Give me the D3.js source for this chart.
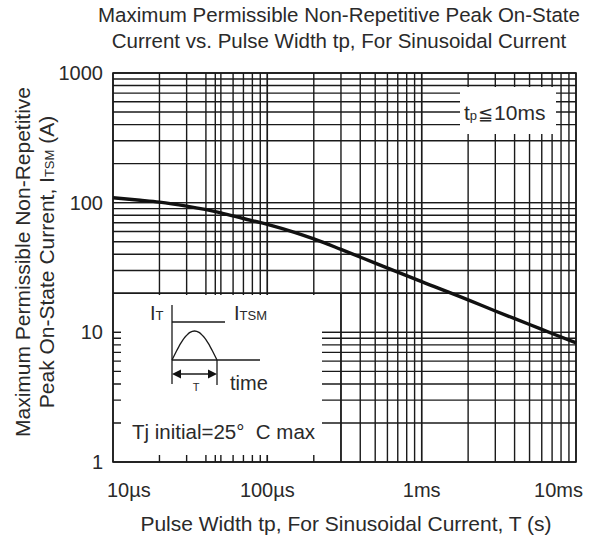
<!DOCTYPE html>
<html><head><meta charset="utf-8">
<script src="https://cdn.jsdelivr.net/npm/d3@7"></script>
<style>
body{margin:0;background:#fff;}
text{font-family:Arial,"Liberation Sans",sans-serif;fill:#2a2a2a;}
</style></head>
<body>
<svg id="c" width="594" height="540"></svg>
<script>
// ---- data ----
const pulseWidth = [1e-5, 1.5e-5, 2e-5, 3e-5, 5e-5, 7e-5, 1e-4, 1.5e-4, 2e-4, 3e-4, 5e-4, 1e-3, 2e-3, 3e-3, 5e-3, 7e-3, 1e-2];
const itsm       = [109, 104.5, 101, 94, 83.5, 75.5, 68, 59, 52.5, 43.6, 34.2, 24.6, 17.8, 14.6, 11.5, 9.8, 8.3];
const xTickValues = [1e-5, 1e-4, 1e-3, 1e-2];
const xTickLabels = ["10\u00b5s", "100\u00b5s", "1ms", "10ms"];
const yTickValues = [1, 10, 100, 1000];
const yTickLabels = ["1", "10", "100", "1000"];
const xExtraGrid = [4.6e-5];
const titleLines = ["Maximum Permissible Non-Repetitive Peak On-State", "Current vs. Pulse Width tp, For Sinusoidal Current"];
const xTitle = "Pulse Width tp, For Sinusoidal Current, T (s)";

const svg = d3.select("#c");
const L = 113, R = 576, T = 73, B = 462;
const x = d3.scaleLog().domain([1e-5, 1e-2]).range([L, R]);
const y = d3.scaleLog().domain([1, 1000]).range([B, T]);

// grid values (1..9 per decade)
const xg = [];
for (let e = -5; e < -2; e++) for (let m = 1; m <= 10; m++) xg.push(m * Math.pow(10, e));
xExtraGrid.forEach(v => xg.push(v));
const yg = [];
for (let e = 0; e < 3; e++) for (let m = 1; m <= 10; m++) yg.push(m * Math.pow(10, e));

const grid = svg.append("g").attr("stroke", "#1a1a1a").attr("stroke-width", 1.4);
grid.selectAll("line.v").data(xg).join("line").attr("class","v")
  .attr("x1", d => x(d)).attr("x2", d => x(d)).attr("y1", T).attr("y2", B);
grid.selectAll("line.h").data(yg).join("line").attr("class","h")
  .attr("x1", L).attr("x2", R).attr("y1", d => y(d)).attr("y2", d => y(d));

// white boxes (inset + tp label)
svg.append("rect").attr("x", 121).attr("y", 295).attr("width", 201).attr("height", 160).attr("fill", "#fff");
svg.append("rect").attr("x", 460).attr("y", 87).attr("width", 96).attr("height", 47).attr("fill", "#fff");
// redraw the 20A line and the 300us line that border the inset
grid.append("line").attr("x1", L).attr("x2", R).attr("y1", y(20)).attr("y2", y(20));
grid.append("line").attr("x1", x(3e-4)).attr("x2", x(3e-4)).attr("y1", y(20)).attr("y2", B);

// frame
svg.append("rect").attr("x", L).attr("y", T).attr("width", R - L).attr("height", B - T)
  .attr("fill", "none").attr("stroke", "#1a1a1a").attr("stroke-width", 1.6);

// curve
const line = d3.line().x((d, i) => x(pulseWidth[i])).y(d => y(d)).curve(d3.curveMonotoneX);
svg.append("path").attr("d", line(itsm)).attr("fill", "none").attr("stroke", "#111").attr("stroke-width", 3.4);

// axis tick labels
svg.selectAll("text.yt").data(yTickValues).join("text").attr("class","yt")
  .attr("x", L - 10).attr("y", d => y(d) + 7).attr("text-anchor", "end")
  .attr("font-size", 20).text((d, i) => yTickLabels[i]);
svg.selectAll("text.xt").data(xTickValues).join("text").attr("class","xt")
  .attr("x", (d, i) => x(d) + (i === 0 ? -6 : i === 3 ? 7 : 0))
  .attr("y", 497)
  .attr("text-anchor", (d, i) => i === 0 ? "start" : i === 3 ? "end" : "middle")
  .attr("font-size", 20).text((d, i) => xTickLabels[i]);

// titles
svg.selectAll("text.tt").data(titleLines).join("text").attr("class","tt")
  .attr("x", 339).attr("y", (d, i) => 22 + i * 26).attr("text-anchor", "middle")
  .attr("font-size", 20.5).text(d => d);
svg.append("text").attr("x", 346).attr("y", 531).attr("text-anchor", "middle")
  .attr("font-size", 21).text(xTitle);

const yl = svg.append("g").attr("transform", "translate(0,262) rotate(-90)");
yl.append("text").attr("x", 0).attr("y", 30).attr("text-anchor", "middle").attr("font-size", 21)
  .text("Maximum Permissible Non-Repetitive");
const yl2 = yl.append("text").attr("x", 0).attr("y", 54).attr("text-anchor", "middle").attr("font-size", 21);
yl2.append("tspan").text("Peak On-State Current, I");
yl2.append("tspan").attr("font-size", 13).text("TSM");
yl2.append("tspan").text(" (A)");

// tp label
const tp = svg.append("text").attr("x", 464).attr("y", 120).attr("font-size", 21);
tp.append("tspan").text("t");
tp.append("tspan").attr("font-size", 13).text("p");
tp.append("tspan").text("\u2266").attr("font-size", 18).attr("dx", 1);
tp.append("tspan").text("10ms").attr("dx", 1);

// inset
const ins = svg.append("g").attr("stroke", "#1a1a1a").attr("stroke-width", 1.3).attr("fill", "none");
ins.append("line").attr("x1", 172).attr("x2", 172).attr("y1", 305).attr("y2", 384);
ins.append("line").attr("x1", 172).attr("x2", 225).attr("y1", 322).attr("y2", 322);
ins.append("line").attr("x1", 172).attr("x2", 260).attr("y1", 360).attr("y2", 360);
ins.append("line").attr("x1", 217).attr("x2", 217).attr("y1", 360).attr("y2", 385);
ins.append("path").attr("d", d3.line().curve(d3.curveNatural)(d3.range(0, 21).map(k => [172 + k * 45 / 20, 360 - 29 * Math.sin(Math.PI * k / 20)])));
ins.append("line").attr("x1", 178).attr("x2", 211).attr("y1", 374).attr("y2", 374);
svg.append("path").attr("d", "M172,374 L181,369.5 L181,378.5 Z M217,374 L208,369.5 L208,378.5 Z").attr("fill", "#111");

const it = svg.append("text").attr("x", 150).attr("y", 320).attr("font-size", 20);
it.append("tspan").text("I"); it.append("tspan").attr("font-size", 13).text("T");
const its = svg.append("text").attr("x", 234).attr("y", 320).attr("font-size", 20);
its.append("tspan").text("I"); its.append("tspan").attr("font-size", 13).text("TSM");
svg.append("text").attr("x", 196).attr("y", 391).attr("font-size", 11).attr("text-anchor", "middle").text("T");
svg.append("text").attr("x", 230).attr("y", 390).attr("font-size", 20).text("time");
svg.append("text").attr("x", 132).attr("y", 439).attr("font-size", 20.5).text("Tj initial=25\u00b0\u00a0\u00a0C max");
</script>
</body></html>
